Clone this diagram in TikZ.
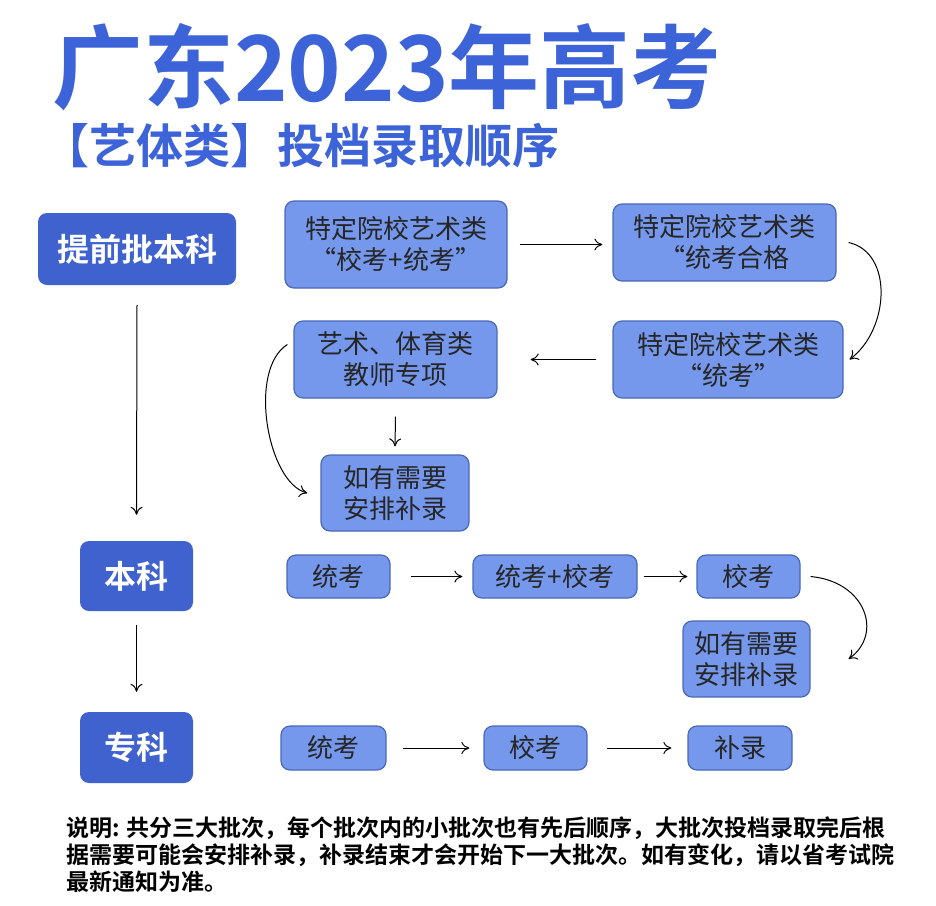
\documentclass[tikz,border=0pt]{standalone}
\usepackage{fontspec}
\setmainfont{Noto Sans CJK SC}
\newfontfamily\cjkb{Noto Sans CJK SC Bold}
\usetikzlibrary{arrows.meta}
\definecolor{lb}{HTML}{7598EC}
\definecolor{lbd}{HTML}{4A68B8}
\definecolor{db}{HTML}{3F62CF}
\definecolor{tt}{HTML}{3D63D8}
\tikzset{
 lbox/.style={draw=lbd,line width=1.2pt,fill=lb,rounded corners=9pt,align=center,font=\fontsize{26}{31}\selectfont,text=black!85,inner sep=0pt},
 dbox/.style={fill=db,rounded corners=9pt,text=white,font=\cjkb\fontsize{32}{36}\selectfont,inner sep=0pt},
 arr/.style={-{To[length=8pt,width=12pt]},line width=1pt}
}
\begin{document}
\begin{tikzpicture}[x=1pt,y=-1pt]
\useasboundingbox (0,0) rectangle (936,905);
\fill[white] (0,0) rectangle (936,905);
\node[anchor=west,text=tt,font=\cjkb\fontsize{91}{98}\selectfont,inner sep=0pt] (t1) at (52,67) {广东2023年高考};
\node[anchor=west,text=tt,font=\cjkb\fontsize{47}{52}\selectfont,inner sep=0pt] (t2) at (42,146) {【艺体类】投档录取顺序};
\node[dbox,minimum width=198pt,minimum height=72pt] (p1) at (137,249) {提前批本科};
\node[dbox,minimum width=113pt,minimum height=70pt] (p2) at (136.5,576) {本科};
\node[dbox,minimum width=113pt,minimum height=71pt] (p3) at (136.5,747.5) {专科};
\node[lbox,minimum width=222pt,minimum height=87pt] (a) at (396,244.5) {特定院校艺术类\\“校考+统考”};
\node[lbox,minimum width=223pt,minimum height=77pt] (b) at (724.5,242.5) {特定院校艺术类\\“统考合格};
\node[lbox,minimum width=230pt,minimum height=77pt] (c) at (728,359.5) {特定院校艺术类\\“统考”};
\node[lbox,minimum width=203pt,minimum height=77pt] (d) at (395.5,359.5) {艺术、体育类\\教师专项};
\node[lbox,minimum width=148pt,minimum height=76pt] (e) at (395,493) {如有需要\\安排补录};
\node[lbox,minimum width=103pt,minimum height=43pt] (r1) at (338.5,576.5) {统考};
\node[lbox,minimum width=164pt,minimum height=43pt] (r2) at (555,576.5) {统考+校考};
\node[lbox,minimum width=103pt,minimum height=43pt] (r3) at (748.5,576.5) {校考};
\node[lbox,minimum width=127pt,minimum height=76pt] (r4) at (746.5,659) {如有需要\\安排补录};
\node[lbox,minimum width=105pt,minimum height=44pt] (s1) at (333.5,748) {统考};
\node[lbox,minimum width=103pt,minimum height=44pt] (s2) at (535.5,748) {校考};
\node[lbox,minimum width=104pt,minimum height=44pt] (s3) at (740,748) {补录};
\draw[arr] ([xshift=12pt]a.east) -- ([xshift=-10pt]b.west|-a.east);
\draw[arr] ([xshift=12pt]b.east) .. controls +(45,10) and +(40,-30) .. ([xshift=6pt]c.east);
\draw[arr] ([xshift=-16pt]c.west) -- ([xshift=33pt]c.west-|d.east);
\draw[arr] ([yshift=-18pt]d.south) -- ([yshift=8pt]e.north);
\draw[arr] ([xshift=-6pt,yshift=15pt]d.west) .. controls +(-40,25) and +(-40,-10) .. ([xshift=-13pt]e.west);
\draw[arr] ([yshift=-20pt]p1.south) -- ([yshift=26pt]p2.north);
\draw[arr] ([yshift=-14pt]p2.south) -- ([yshift=20pt]p3.north);
\draw[arr] ([xshift=20pt]r1.east) -- ([xshift=-10pt]r2.west);
\draw[arr] ([xshift=6pt]r2.east) -- ([xshift=-9pt]r3.west);
\draw[arr] ([xshift=10pt]r3.east) .. controls +(55,5) and +(35,-25) .. ([xshift=38pt]r4.east);
\draw[arr] ([xshift=16pt]s1.east) -- ([xshift=-14pt]s2.west);
\draw[arr] ([xshift=19pt]s2.east) -- ([xshift=-16pt]s3.west);
\node[anchor=north west,align=left,font=\cjkb\fontsize{23}{27}\selectfont,inner sep=0pt] (n) at (66,816) {说明: 共分三大批次，每个批次内的小批次也有先后顺序，大批次投档录取完后根\\据需要可能会安排补录，补录结束才会开始下一大批次。如有变化，请以省考试院\\最新通知为准。};
\end{tikzpicture}
\end{document}
